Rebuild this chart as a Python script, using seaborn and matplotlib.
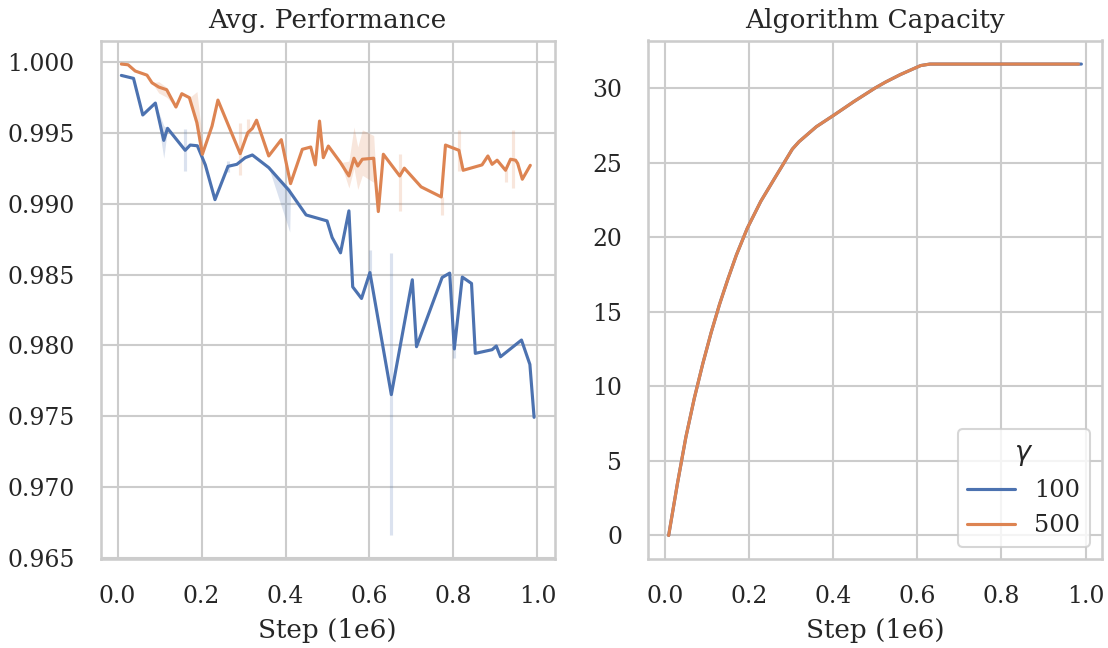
import numpy as np
import pandas as pd
import matplotlib
matplotlib.use("Agg")
import matplotlib.pyplot as plt
from matplotlib.ticker import FormatStrFormatter
import seaborn as sns

# ---- Avg. Performance (mean over seeds) ----
GAMMAS = ["100", "500"]

steps_100 = [0.009, 0.038, 0.060, 0.090, 0.110, 0.119, 0.161, 0.173, 0.190, 0.209,
             0.232, 0.263, 0.284, 0.304, 0.321, 0.360, 0.408, 0.449, 0.499, 0.511,
             0.531, 0.551, 0.560, 0.581, 0.601, 0.652, 0.702, 0.712, 0.773, 0.791,
             0.802, 0.821, 0.843, 0.852, 0.892, 0.902, 0.912, 0.962, 0.982, 0.992]
perf_100 = [0.99904, 0.99883, 0.99625, 0.99709, 0.99446, 0.99531, 0.99376, 0.99413, 0.99408, 0.99273,
            0.99028, 0.99263, 0.99277, 0.99324, 0.99343, 0.99254, 0.99094, 0.98920, 0.98878, 0.98761,
            0.98653, 0.98949, 0.98413, 0.98331, 0.98514, 0.97653, 0.98463, 0.97991, 0.98479, 0.98510,
            0.97975, 0.98482, 0.98437, 0.97944, 0.97970, 0.97996, 0.97920, 0.98038, 0.97866, 0.97493]

steps_500 = [0.009, 0.025, 0.042, 0.070, 0.082, 0.098, 0.117, 0.139, 0.153, 0.171,
             0.189, 0.202, 0.225, 0.239, 0.292, 0.310, 0.321, 0.331, 0.360, 0.390,
             0.412, 0.440, 0.460, 0.471, 0.481, 0.490, 0.502, 0.531, 0.551, 0.563,
             0.572, 0.583, 0.610, 0.621, 0.633, 0.672, 0.683, 0.723, 0.771, 0.781,
             0.813, 0.823, 0.868, 0.882, 0.892, 0.904, 0.924, 0.936, 0.948, 0.953,
             0.964, 0.983]
perf_500 = [0.99984, 0.99979, 0.99935, 0.99906, 0.99852, 0.99822, 0.99803, 0.99681, 0.99775, 0.99747,
            0.99570, 0.99348, 0.99547, 0.99730, 0.99352, 0.99500, 0.99530, 0.99588, 0.99336, 0.99451,
            0.99141, 0.99383, 0.99399, 0.99273, 0.99582, 0.99324, 0.99406, 0.99289, 0.99195, 0.99320,
            0.99265, 0.99313, 0.99320, 0.98944, 0.99348, 0.99195, 0.99250, 0.99118, 0.99047, 0.99413,
            0.99376, 0.99235, 0.99273, 0.99336, 0.99277, 0.99306, 0.99235, 0.99313, 0.99306, 0.99283,
            0.99172, 0.99270]

# Seed spread: contiguous bands (x, low, high) ...
band_100 = [
    ([0.090, 0.110, 0.119], [0.99709, 0.9932, 0.99531], [0.99709, 0.9955, 0.99531]),
    ([0.360, 0.410, 0.412], [0.99254, 0.9880, 0.9909], [0.99254, 0.9911, 0.9909]),
]
band_500 = [
    ([0.082, 0.098, 0.117, 0.139], [0.99852, 0.9978, 0.9975, 0.99681], [0.99852, 0.9986, 0.9982, 0.99681]),
    ([0.171, 0.189, 0.202, 0.204], [0.99747, 0.9950, 0.9924, 0.9935], [0.99747, 0.9979, 0.9945, 0.9935]),
    ([0.531, 0.551, 0.563, 0.572, 0.583, 0.610, 0.613],
     [0.99289, 0.9911, 0.9925, 0.9910, 0.9920, 0.9915, 0.9932],
     [0.99289, 0.9930, 0.9954, 0.9940, 0.9952, 0.9948, 0.9932]),
]
# ... and spread at isolated steps
spike_x_100 = [0.161, 0.263, 0.601, 0.652, 0.802]
spike_lo_100 = [0.99232, 0.9922, 0.98514, 0.9666, 0.9791]
spike_hi_100 = [0.99527, 0.9930, 0.9867, 0.9865, 0.9800]
spike_x_500 = [0.292, 0.310, 0.672, 0.773, 0.813, 0.924, 0.942]
spike_lo_500 = [0.9920, 0.9948, 0.9895, 0.9892, 0.9923, 0.9915, 0.9911]
spike_hi_500 = [0.9957, 0.9960, 0.9935, 0.9905, 0.9952, 0.9924, 0.9952]

# ---- Algorithm Capacity ----
cap_steps_100 = [0.009, 0.03, 0.05, 0.07, 0.09, 0.11, 0.13, 0.15, 0.17, 0.196, 0.228, 0.26,
                 0.303, 0.319, 0.36, 0.403, 0.45, 0.50, 0.525, 0.56, 0.608, 0.63, 0.70,
                 0.80, 0.90, 0.99]
cap_100 = [0.0, 3.5, 6.6, 9.2, 11.5, 13.6, 15.5, 17.2, 18.8, 20.6, 22.4, 23.9,
           25.9, 26.4, 27.4, 28.2, 29.1, 30.0, 30.4, 30.9, 31.5, 31.6, 31.6,
           31.6, 31.6, 31.6]
cap_steps_500 = [0.009, 0.03, 0.05, 0.07, 0.09, 0.11, 0.13, 0.15, 0.17, 0.196, 0.228, 0.26,
                 0.303, 0.319, 0.36, 0.403, 0.45, 0.50, 0.525, 0.56, 0.608, 0.63, 0.70,
                 0.80, 0.90, 0.983]
cap_500 = [0.0, 3.5, 6.6, 9.2, 11.5, 13.6, 15.5, 17.2, 18.8, 20.6, 22.4, 23.9,
           25.9, 26.4, 27.4, 28.2, 29.1, 30.0, 30.4, 30.9, 31.5, 31.6, 31.6,
           31.6, 31.6, 31.6]

perf = pd.DataFrame({
    "step": steps_100 + steps_500,
    "perf": perf_100 + perf_500,
    "γ": [GAMMAS[0]] * len(steps_100) + [GAMMAS[1]] * len(steps_500),
})
cap = pd.DataFrame({
    "step": cap_steps_100 + cap_steps_500,
    "cap": cap_100 + cap_500,
    "γ": [GAMMAS[0]] * len(cap_steps_100) + [GAMMAS[1]] * len(cap_steps_500),
})

sns.set_theme(style="whitegrid", font="serif")
plt.rcParams.update({
    "axes.titlesize": 12.7,
    "axes.labelsize": 12.6,
    "xtick.labelsize": 11.3,
    "ytick.labelsize": 11.3,
    "legend.fontsize": 11.5,
    "legend.title_fontsize": 13,
})
palette = dict(zip(GAMMAS, sns.color_palette("deep", 2)))

fig, (ax1, ax2) = plt.subplots(1, 2, figsize=(1108 / 150, 648 / 150), dpi=150)
fig.subplots_adjust(left=0.0909, right=0.9946, bottom=0.1373, top=0.9375, wspace=0.2055)

# left panel: bands first, then mean lines
for g, bands in zip(GAMMAS, [band_100, band_500]):
    for bx, lo, hi in bands:
        ax1.fill_between(bx, lo, hi, color=palette[g], alpha=0.2, linewidth=0)
ax1.vlines(spike_x_100, spike_lo_100, spike_hi_100, color=palette["100"], alpha=0.2, linewidth=1.5)
ax1.vlines(spike_x_500, spike_lo_500, spike_hi_500, color=palette["500"], alpha=0.2, linewidth=1.5)
sns.lineplot(data=perf, x="step", y="perf", hue="γ", palette=palette, ax=ax1,
             errorbar=None, legend=False)
ax1.set_title("Avg. Performance")
ax1.set_xlabel("Step (1e6)", labelpad=5)
ax1.set_ylabel("")
ax1.set_xticks(np.linspace(0, 1, 6))
ax1.xaxis.set_major_formatter(FormatStrFormatter("%.1f"))
ax1.set_yticks(np.linspace(0.965, 1.0, 8))
ax1.yaxis.set_major_formatter(FormatStrFormatter("%.3f"))

# right panel
sns.lineplot(data=cap, x="step", y="cap", hue="γ", palette=palette, ax=ax2, errorbar=None)
ax2.set_title("Algorithm Capacity")
ax2.set_xlabel("Step (1e6)", labelpad=5)
ax2.set_ylabel("")
ax2.set_xticks(np.linspace(0, 1, 6))
ax2.xaxis.set_major_formatter(FormatStrFormatter("%.1f"))
ax2.set_yticks([0, 5, 10, 15, 20, 25, 30])
sns.move_legend(ax2, "lower right", title=r"$\gamma$")

for ax in (ax1, ax2):
    ax.tick_params(axis="both", pad=6.5)

fig.savefig("out.png", dpi=150)
